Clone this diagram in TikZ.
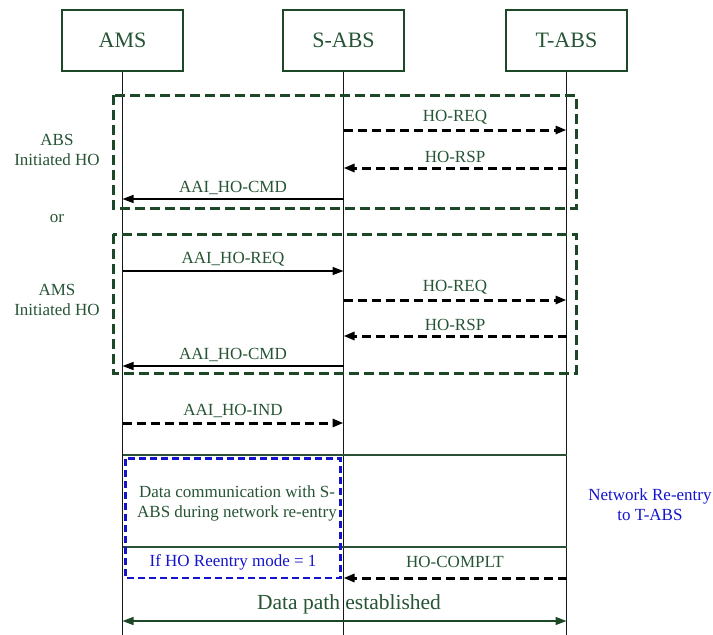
\documentclass[tikz,border=0pt]{standalone}
\usepackage{fontspec}
\setmainfont{Liberation Serif}
\usetikzlibrary{arrows.meta}
\definecolor{txtgreen}{RGB}{38,84,52}
\definecolor{boxgreen}{RGB}{28,72,40}
\definecolor{linegray}{RGB}{20,24,22}
\definecolor{noteblue}{RGB}{20,20,205}
\tikzset{
  actor/.style={draw=boxgreen, line width=1.3pt, minimum width=121pt, minimum height=61pt,
    inner sep=0pt, font=\fontsize{22}{24}\selectfont, text=txtgreen},
  life/.style={draw=linegray, line width=1.2pt},
  msgtip/.style={-{Triangle[length=11pt,width=8pt]}},
  solidmsg/.style={msgtip, draw=black, line width=1.3pt},
  dashmsg/.style={msgtip, draw=black, line width=3pt, dash pattern=on 9pt off 5pt},
  lbl/.style={font=\fontsize{17}{19}\selectfont, text=txtgreen, inner sep=0pt},
  side/.style={font=\fontsize{17}{20}\selectfont, text=txtgreen, align=center, inner sep=0pt},
  group/.style={draw=boxgreen, line width=3pt, dash pattern=on 10pt off 5pt},
  sep/.style={draw=boxgreen!85!gray, line width=1.1pt},
  bluenote/.style={font=\fontsize{17}{20}\selectfont, text=noteblue, align=center, inner sep=0pt},
}
\begin{document}
\begin{tikzpicture}[x=1pt,y=-1pt]
\useasboundingbox (0,0) rectangle (713,635);

% participants
\node[actor] (ams)  at (122.5,40.5) {AMS};
\node[actor] (sabs) at (343.5,40.5) {S-ABS};
\node[actor] (tabs) at (566.5,40.5) {T-ABS};

% lifelines
\coordinate (amsend)  at (122.5,635);
\coordinate (sabsend) at (343.5,635);
\coordinate (tabsend) at (566.5,635);
\draw[life] (ams.south)  -- (amsend);
\draw[life] (sabs.south) -- (sabsend);
\draw[life] (tabs.south) -- (tabsend);

% ABS initiated handover
\draw[group] (113,95) rectangle (576,208);
\node[side] (absinit) at (57,150) {ABS\\Initiated HO};
\coordinate (s1) at (343.5,130); \coordinate (t1) at (566.5,130);
\draw[dashmsg] (s1) -- node[lbl, above=4pt] (l1) {HO-REQ} (t1);
\coordinate (t2) at (566.5,168); \coordinate (s2) at (343.5,168);
\draw[dashmsg] (t2) -- node[lbl, above=4pt] (l2) {HO-RSP} (s2);
\coordinate (s3) at (343.5,199); \coordinate (a3) at (122.5,199);
\draw[solidmsg] (s3) -- node[lbl, above=4pt] (l3) {AAI\_HO-CMD} (a3);

\node[side] (ortxt) at (57,219) {or};

% AMS initiated handover
\draw[group] (113,234) rectangle (576,373);
\node[side] (amsinit) at (57,300) {AMS\\Initiated HO};
\coordinate (a4) at (122.5,271); \coordinate (s4) at (343.5,271);
\draw[solidmsg] (a4) -- node[lbl, above=4pt] (l4) {AAI\_HO-REQ} (s4);
\coordinate (s5) at (343.5,300); \coordinate (t5) at (566.5,300);
\draw[dashmsg] (s5) -- node[lbl, above=4pt] (l5) {HO-REQ} (t5);
\coordinate (t6) at (566.5,336); \coordinate (s6) at (343.5,336);
\draw[dashmsg] (t6) -- node[lbl, above=4pt] (l6) {HO-RSP} (s6);
\coordinate (s7) at (343.5,366); \coordinate (a7) at (122.5,366);
\draw[solidmsg] (s7) -- node[lbl, above=4pt] (l7) {AAI\_HO-CMD} (a7);

% handover indication
\coordinate (a8) at (122.5,423); \coordinate (s8) at (343.5,423);
\draw[dashmsg] (a8) -- node[lbl, above=4pt] (l8) {AAI\_HO-IND} (s8);

% network re-entry phase
\coordinate (r1a) at (122.5,455); \coordinate (r1t) at (566.5,455);
\draw[sep] (r1a) -- (r1t);
\coordinate (r2a) at (122.5,547); \coordinate (r2t) at (566.5,547);
\draw[sep] (r2a) -- (r2t);
\draw[draw=noteblue, line width=2.4pt, dash pattern=on 7pt off 4pt] (125.5,458.5) rectangle (340.5,578);
\node[side] (datacomm) at (237,503) {Data communication with S-\\ABS during network re-entry};
\node[bluenote] (mode) at (233,562) {If HO Reentry mode = 1};
\node[bluenote] (reentry) at (650,505) {Network Re-entry\\to T-ABS};
\coordinate (t9) at (566.5,578); \coordinate (s9) at (343.5,578);
\draw[dashmsg] (t9) -- node[lbl, above=9pt] (l9) {HO-COMPLT} (s9);

% data path
\coordinate (dpa) at (122.5,621); \coordinate (dpt) at (566.5,621);
\draw[draw=boxgreen, line width=1.4pt, {Triangle[length=11pt,width=8pt]}-{Triangle[length=11pt,width=8pt]}]
  (dpa) -- (dpt);
\node[inner sep=0pt, font=\fontsize{21.5}{24}\selectfont, text=txtgreen] (dpath) at (349,604) {Data path established};
\end{tikzpicture}
\end{document}
